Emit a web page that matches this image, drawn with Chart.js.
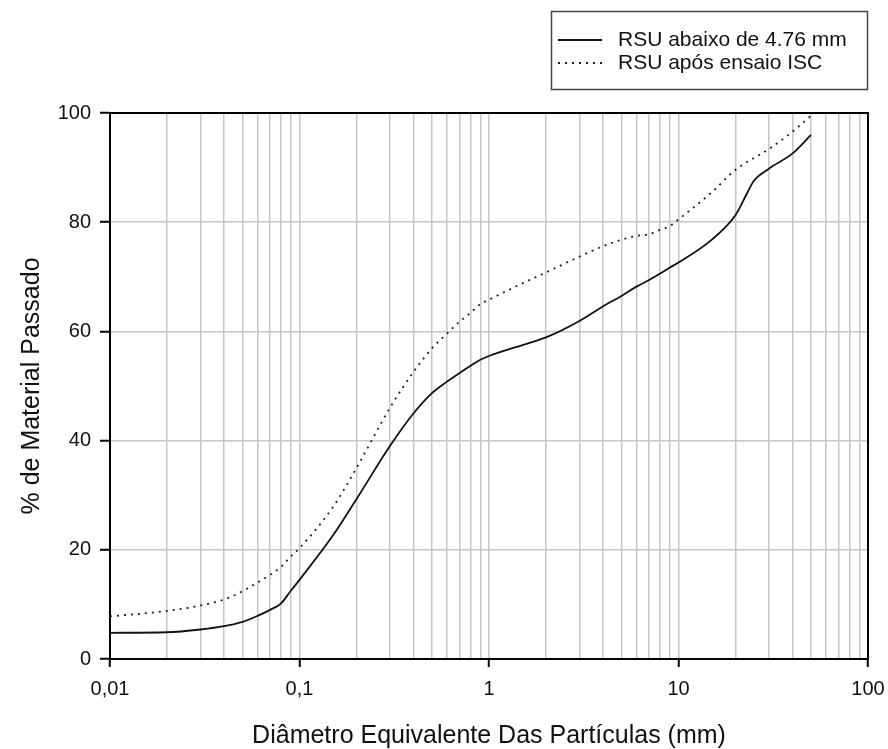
<!DOCTYPE html>
<html>
<head>
<meta charset="utf-8">
<script src="https://cdn.jsdelivr.net/npm/chart.js@4.4.1/dist/chart.umd.min.js"></script>
<style>
  body { margin: 0; background: #fff; }
  #wrap { width: 888px; height: 749px; }
</style>
</head>
<body>
<div id="wrap"><canvas id="granChart" width="888" height="749"></canvas></div>
<script>
// curva 1: RSU abaixo de 4.76 mm
var diamA = [0.01, 0.02, 0.03, 0.04, 0.05, 0.06, 0.07, 0.08, 0.09, 0.1, 0.15, 0.2, 0.3, 0.4, 0.5, 0.6, 0.7, 0.8, 0.9, 1, 1.5, 2, 3, 4, 5, 6, 7, 8, 9, 10, 15, 20, 23, 25, 30, 40, 50];
var passA = [4.8, 4.9, 5.4, 6.0, 6.8, 7.9, 9.0, 10.2, 12.5, 14.5, 22.6, 29.3, 39.0, 45.0, 48.7, 50.8, 52.4, 53.7, 54.8, 55.5, 57.5, 58.9, 61.9, 64.6, 66.5, 68.2, 69.4, 70.6, 71.7, 72.6, 76.8, 81.3, 85.3, 87.6, 89.8, 92.6, 96.0];

// curva 2: RSU após ensaio ISC
var diamB = [0.01, 0.02, 0.03, 0.04, 0.05, 0.06, 0.07, 0.08, 0.09, 0.1, 0.15, 0.2, 0.3, 0.4, 0.5, 0.6, 0.7, 0.8, 0.9, 1, 1.5, 2, 3, 4, 5, 6, 7, 8, 9, 10, 15, 20, 30, 40, 50];
var passB = [7.8, 8.8, 9.8, 10.9, 12.4, 14.0, 15.4, 16.9, 18.8, 20.3, 27.8, 35.0, 46.0, 52.6, 56.9, 59.6, 61.8, 63.4, 65.0, 65.8, 68.8, 70.8, 73.7, 75.6, 76.8, 77.5, 77.8, 78.6, 79.3, 80.5, 85.5, 89.6, 93.4, 96.6, 99.5];

var seriesNames = ['RSU abaixo de 4.76 mm', 'RSU após ensaio ISC'];
var xMajors = [0.01, 0.1, 1, 10, 100];
var xTickLabels = ['0,01', '0,1', '1', '10', '100'];
var yTicks = [0, 20, 40, 60, 80, 100];

function toPoints(xs, ys) {
    return xs.map(function (x, i) { return { x: x, y: ys[i] }; });
}

// ticks 1..9 x 10^k para a grade logaritmica
var logTicks = [];
for (var e = -2; e <= 1; e++) {
    for (var m = 1; m <= 9; m++) {
        logTicks.push(parseFloat((m * Math.pow(10, e)).toPrecision(6)));
    }
}
logTicks.push(100);

function isMajor(v) {
    return xMajors.indexOf(v) !== -1;
}

var frame = {
    id: 'frame',
    afterDatasetsDraw: function (chart) {
        var a = chart.chartArea, c = chart.ctx;
        c.save();
        c.strokeStyle = '#000';
        c.lineWidth = 2;
        c.strokeRect(a.left, a.top, a.right - a.left, a.bottom - a.top);
        c.restore();
    }
};

var boxLegend = {
    id: 'boxLegend',
    afterDraw: function (chart) {
        var c = chart.ctx;
        c.save();
        c.strokeStyle = '#444';
        c.lineWidth = 1.5;
        c.strokeRect(551.5, 11.5, 316, 78);
        chart.data.datasets.forEach(function (ds, i) {
            var y = 40 + i * 23;
            c.beginPath();
            c.strokeStyle = ds.borderColor;
            c.lineWidth = ds.borderWidth;
            c.setLineDash(ds.borderDash || []);
            c.moveTo(558, y);
            c.lineTo(602, y);
            c.stroke();
            c.setLineDash([]);
            c.fillStyle = '#111';
            c.font = '21px Arial, "Liberation Sans", sans-serif';
            c.textBaseline = 'middle';
            c.fillText(ds.label, 618, y);
        });
        c.restore();
    }
};

var ctx = document.getElementById('granChart').getContext('2d');
var myChart = new Chart(ctx, {
    type: 'line',
    data: {
        datasets: [
            {
                label: seriesNames[0],
                data: toPoints(diamA, passA),
                borderColor: '#111',
                borderWidth: 1.8,
                pointRadius: 0,
                cubicInterpolationMode: 'monotone',
                fill: false
            },
            {
                label: seriesNames[1],
                data: toPoints(diamB, passB),
                borderColor: '#222',
                borderWidth: 1.8,
                borderDash: [2, 5],
                pointRadius: 0,
                cubicInterpolationMode: 'monotone',
                fill: false
            }
        ]
    },
    options: {
        responsive: false,
        animation: false,
        layout: { padding: { left: 0, right: 20, top: 113, bottom: 0 } },
        plugins: {
            legend: { display: false },
            tooltip: { enabled: false }
        },
        scales: {
            x: {
                type: 'logarithmic',
                min: 0.01,
                max: 100,
                afterBuildTicks: function (scale) {
                    scale.ticks = logTicks.map(function (v) { return { value: v, major: isMajor(v) }; });
                },
                afterFit: function (scale) {
                    scale.height = 90;
                    scale.paddingLeft = 0;
                    scale.paddingRight = 0;
                },
                ticks: {
                    autoSkip: false,
                    maxRotation: 0,
                    padding: 10,
                    color: '#111',
                    font: { family: 'Arial, "Liberation Sans", sans-serif', size: 20 },
                    callback: function (v) {
                        var i = xMajors.indexOf(v);
                        return i === -1 ? '' : xTickLabels[i];
                    }
                },
                grid: {
                    color: '#c6c6c6',
                    lineWidth: 1.5,
                    tickLength: 8,
                    tickWidth: 2,
                    tickColor: function (c) {
                        return c.tick && isMajor(c.tick.value) ? '#000' : 'rgba(0,0,0,0)';
                    }
                },
                border: { color: '#000', width: 2 },
                title: {
                    display: true,
                    text: 'Diâmetro Equivalente Das Partículas (mm)',
                    color: '#111',
                    font: { family: 'Arial, "Liberation Sans", sans-serif', size: 25, lineHeight: 1 },
                    padding: { top: 0, bottom: 0 }
                }
            },
            y: {
                min: 0,
                max: 100,
                afterBuildTicks: function (scale) {
                    scale.ticks = yTicks.map(function (v) { return { value: v }; });
                },
                afterFit: function (scale) { scale.width = 110; },
                ticks: {
                    padding: 9,
                    color: '#111',
                    font: { family: 'Arial, "Liberation Sans", sans-serif', size: 20 }
                },
                grid: {
                    color: '#c6c6c6',
                    lineWidth: 1.5,
                    tickLength: 10,
                    tickWidth: 2,
                    tickColor: '#000'
                },
                border: { color: '#000', width: 2 },
                title: {
                    display: true,
                    text: '% de Material Passado',
                    color: '#111',
                    font: { family: 'Arial, "Liberation Sans", sans-serif', size: 25, lineHeight: 1 },
                    padding: { top: 20, bottom: 0 }
                }
            }
        }
    },
    plugins: [frame, boxLegend]
});
</script>
</body>
</html>
